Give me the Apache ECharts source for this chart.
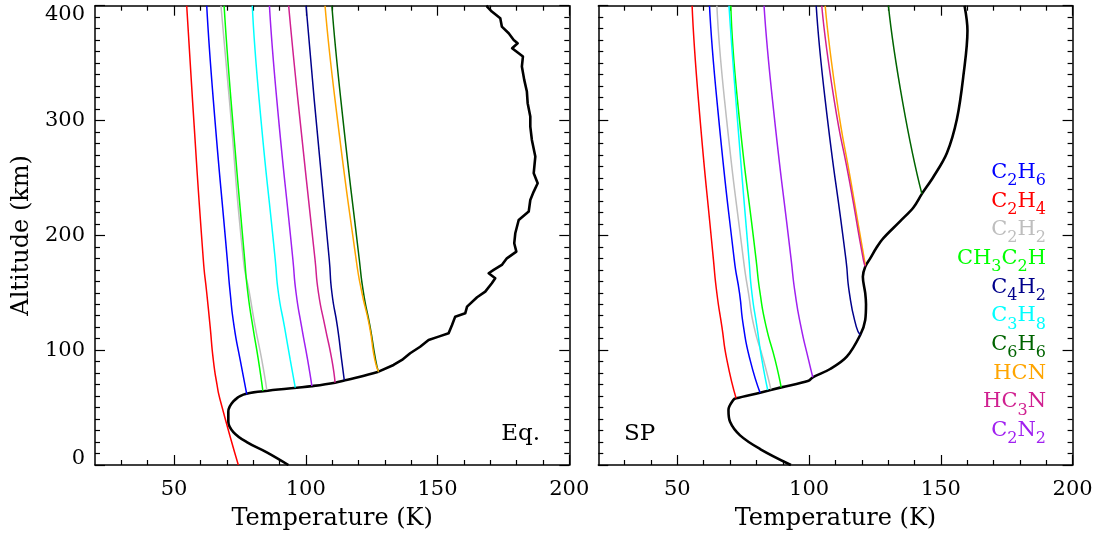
<!DOCTYPE html>
<html>
<head>
<meta charset="utf-8">
<script src="https://cdn.jsdelivr.net/npm/echarts@6/dist/echarts.min.js"></script>
<style>
  html, body { margin: 0; padding: 0; background: #fff; }
  #chart { width: 1098px; height: 533px; }
</style>
</head>
<body>
<div id="chart"></div>
<script>
// points are [temperature (K), altitude (km)]

// --- equator panel (temperature profile split: smooth lower part, noisy upper part)
var eqProfileLow = [[93.4,0],[85.2,11],[77.6,19.9],[72.5,28.7],[70.6,37.6],[70.6,46.5],[72.5,55.4],[76.3,61.3],
  [83.9,64.3],[96.6,67.3],[102.3,68.7],[111.1,71.7],[114.9,73.8],[120.6,76.9],[127.6,81.3]];
var eqProfileHigh = [[127.6,81.3],[133.3,87.1],[136.5,91.5],[139.6,97.3],[143.4,103],[146.6,108.9],[150.4,111.8],
  [154.2,114.7],[155.5,122],[156.7,129.2],[160.5,132.1],[161.2,137.9],[165,146.1],[168.1,151],[170.6,158.3],
  [171.9,162.6],[169.4,167],[171.3,169.9],[174.4,174.2],[176.3,180],[179.9,185.8],[179.1,193.1],[179.5,201.8],
  [180.8,213.4],[184.6,220.7],[185.2,230.8],[186.5,238.1],[188,245.4],[186.5,254.1],[187.1,268.6],[185.8,283.1],
  [185.2,294.7],[185.2,303.4],[184.2,315.1],[183.9,325.2],[182.9,335.4],[182,347],[182.4,355.7],[180.8,358.6],
  [178.3,363],[180.4,367.3],[178.9,370.2],[177,376],[174.4,381.8],[173.8,389.1],[170.6,394.9],[168.8,399.2],[169.2,400]];
var eqC2H6   = [[62.4,400],[64.9,318],[70.2,179],[71.3,150],[72.8,120.5],[75.1,91.5],[77.6,61.6]];
var eqC2H4   = [[54.8,400],[57,318],[61.1,179],[62.4,150],[63.7,120.5],[64.9,91.5],[66.3,70],[67.5,56.6],[74.4,0]];
var eqC2H2   = [[67.8,400],[71,318],[76.3,179],[78.6,150],[80.8,120.5],[83.3,91.5],[85.2,65.3]];
var eqCH3C2H = [[69,400],[71.6,318],[76.8,179],[78,150],[79.9,120.5],[82,91.5],[83.7,64.5]];
var eqC4H2   = [[100.1,400],[103.2,318],[108.9,179],[109.9,150],[112,120.5],[113.6,91.5],[114.6,74]];
var eqC3H8   = [[79.7,400],[82.3,318],[88.4,179],[89.6,150],[91.9,120.5],[94.1,91.5],[96,67.4]];
var eqC6H6   = [[109.9,400],[113.3,318],[120.3,179],[121.9,150],[124.4,120.5],[126.5,91.5],[127.5,81.5]];
var eqHCN    = [[107.3,400],[111.1,318],[119.1,179],[121.3,150],[124.2,120.5],[126.2,91.5],[127.6,81.3]];
var eqHC3N   = [[93.5,400],[97,318],[103.5,179],[104.8,150],[107.3,120.5],[109.9,91.5],[111.1,71.7]];
var eqC2N2   = [[86.2,400],[89,318],[95.1,179],[96.3,150],[98.4,120.5],[100.7,91.5],[102.3,68.8]];

// --- south pole panel
var spProfile = [[93.1,0],[81.4,13.9],[73.8,25.8],[70,37.6],[69.4,48],[71.3,56.9],[72.3,58.1],[81.4,63],
  [89.4,67.6],[99.8,73.4],[101.4,76.4],[108,83.6],[114.3,94.3],[119.4,113.2],[121.3,126.3],[121.6,140],
  [121.3,149.6],[120.4,164],[121.3,172.7],[123.2,180],[125.5,189],[128.2,197.6],[134.6,212.4],[139.6,224.3],
  [142.8,236.1],[147.2,251],[152.3,271.7],[156.1,301.3],[158.6,339.9],[160.1,378.4],[159,400]];
var spC2H6   = [[62.2,400],[65,318],[71.6,178.6],[73.6,149.6],[75.1,120.5],[77.6,91.5],[81.4,63]];
var spC2H4   = [[55.6,400],[58,318],[63.7,178.6],[65,149.6],[66.9,120.5],[68.8,91.5],[72.3,58.1]];
var spC2H2   = [[65,400],[67.9,318],[75.1,178.6],[77,149.6],[79.1,120.5],[82.7,91.5],[85.5,65.9]];
var spCH3C2H = [[70.3,400],[72.8,318],[79.9,178.6],[81.4,149.6],[83.7,120.5],[87.1,91.5],[89.4,67.6]];
var spC4H2   = [[102.7,400],[106.1,318],[114,178.6],[115.3,149.6],[117.9,120.5],[119.4,113.2]];
var spC3H8   = [[69.6,400],[72.2,318],[77.2,178.6],[78.3,149.6],[80.2,120.5],[82.1,91.5],[84.3,65.3]];
var spC6H6   = [[130.1,400],[135.5,316],[142.8,236.1]];
var spHCN    = [[106.1,400],[110.5,318],[116,245],[121,178.6],[121.4,174]];
var spHC3N   = [[104.8,400],[109.5,318],[115.5,245],[120.6,178.6],[121.3,173]];
var spC2N2   = [[82.9,400],[86.1,318],[93.2,178.6],[94.7,149.6],[96.9,120.5],[99.8,91.5],[101.4,76.4]];

var species = ['C2H6', 'C2H4', 'C2H2', 'CH3C2H', 'C4H2', 'C3H8', 'C6H6', 'HCN', 'HC3N', 'C2N2'];
var panelNames = ['Eq.', 'SP'];
var xMajorTicks = [50, 100, 150, 200];
var xMinorTicks = [30, 40, 60, 70, 80, 90, 110, 120, 130, 140, 160, 170, 180, 190];

var eqCurves = { C2H6: eqC2H6, C2H4: eqC2H4, C2H2: eqC2H2, CH3C2H: eqCH3C2H, C4H2: eqC4H2,
  C3H8: eqC3H8, C6H6: eqC6H6, HCN: eqHCN, HC3N: eqHC3N, C2N2: eqC2N2 };
var spCurves = { C2H6: spC2H6, C2H4: spC2H4, C2H2: spC2H2, CH3C2H: spCH3C2H, C4H2: spC4H2,
  C3H8: spC3H8, C6H6: spC6H6, HCN: spHCN, HC3N: spHC3N, C2N2: spC2N2 };

var colors = {
  C2H6: '#0000ff', C2H4: '#ff0000', C2H2: '#bebebe', CH3C2H: '#00ff00', C4H2: '#00008b',
  C3H8: '#00ffff', C6H6: '#006400', HCN: '#ffa500', HC3N: '#d02090', C2N2: '#a020f0'
};

var FONT = 'DejaVu Serif';
var chart = echarts.init(document.getElementById('chart'), null, { renderer: 'canvas' });

var grids = [
  { left: 95, top: 5.7, width: 474.3, height: 459.3, outerBoundsMode: 'none' },
  { left: 598.3, top: 5.7, width: 474.3, height: 459.3, outerBoundsMode: 'none' }
];

var xAxes = [];
var yAxes = [];
grids.forEach(function (g, gi) {
  ['bottom', 'top'].forEach(function (pos) {
    // minor ticks (and, on the bottom, the labels + name)
    xAxes.push({
      gridIndex: gi, type: 'value', min: 20, max: 200, position: pos,
      axisLine: { show: true, onZero: false, lineStyle: { color: '#000', width: 1.5 } },
      axisTick: { show: true, inside: true, length: 5, customValues: xMinorTicks,
        lineStyle: { color: '#000', width: 1.2 } },
      axisLabel: { show: pos === 'bottom', customValues: xMajorTicks, margin: 14,
        color: '#000', fontFamily: FONT, fontSize: 21 },
      splitLine: { show: false },
      name: pos === 'bottom' ? 'Temperature (K)' : '',
      nameLocation: 'middle', nameGap: 42,
      nameTextStyle: { color: '#000', fontFamily: FONT, fontSize: 24 }
    });
    // major ticks
    xAxes.push({
      gridIndex: gi, type: 'value', min: 20, max: 200, position: pos,
      axisLine: { show: false, onZero: false },
      axisTick: { show: true, inside: true, length: 10, customValues: xMajorTicks,
        lineStyle: { color: '#000', width: 1.2 } },
      axisLabel: { show: false },
      splitLine: { show: false }
    });
  });
  ['left', 'right'].forEach(function (pos) {
    var labelled = gi === 0 && pos === 'left';
    var yAxis = {
      gridIndex: gi, type: 'value', min: 0, max: 400, interval: 100, position: pos,
      axisLine: { show: true, onZero: false, lineStyle: { color: '#000', width: 1.5 } },
      axisTick: { show: true, inside: true, length: 10, lineStyle: { color: '#000', width: 1.2 } },
      minorTick: { show: true, splitNumber: 10, length: 5, lineStyle: { color: '#000', width: 1.2 } },
      axisLabel: { show: false },
      splitLine: { show: false }
    };
    if (labelled) {
      yAxis.axisLabel = {
        show: true, margin: 10, color: '#000', fontFamily: FONT, fontSize: 21,
        // end labels sit inside the frame, like the original
        formatter: function (v) {
          if (v === 0) return '{lo|0}';
          if (v === 400) return '{hi|400}';
          return String(v);
        },
        rich: {
          lo: { fontFamily: FONT, fontSize: 21, color: '#000', lineHeight: 15, padding: [0, 0, 12, 0] },
          hi: { fontFamily: FONT, fontSize: 21, color: '#000', lineHeight: 15, padding: [18, 0, 0, 0] }
        }
      };
      yAxis.name = 'Altitude (km)';
      yAxis.nameLocation = 'middle';
      yAxis.nameGap = 61;
      yAxis.nameRotate = 90;
      yAxis.nameTextStyle = { color: '#000', fontFamily: FONT, fontSize: 24 };
    }
    yAxes.push(yAxis);
  });
});

// x axis index of bottom axis in each grid = gi*4, left y axis = gi*2
var series = [];
[[eqProfileLow, 0, 0.4], [eqProfileHigh, 0, false], [spProfile, 1, 0.35]].forEach(function (p) {
  series.push({
    type: 'line', name: 'T profile', data: p[0], xAxisIndex: p[1] * 4, yAxisIndex: p[1] * 2,
    showSymbol: false, smooth: p[2],
    lineStyle: { color: '#000', width: 2.6, join: 'round' }, z: 3
  });
});
[eqCurves, spCurves].forEach(function (curves, gi) {
  species.forEach(function (sp) {
    series.push({
      type: 'line', name: sp, data: curves[sp], xAxisIndex: gi * 4, yAxisIndex: gi * 2,
      showSymbol: false, smooth: 0.6,
      lineStyle: { color: colors[sp], width: 1.5 }, z: 4
    });
  });
});

// chemical formula -> rich text with subscripted digits
function formula(name) {
  return name.replace(/([A-Za-z]+)|(\d+)/g, function (m, letters, digits) {
    return letters ? '{m|' + letters + '}' : '{s|' + digits + '}';
  });
}

var graphics = species.map(function (sp, i) {
  return {
    type: 'text', z: 100,
    style: {
      x: 1046, y: 174 + i * 28.67, align: 'right', verticalAlign: 'middle',
      text: formula(sp),
      rich: {
        m: { fontFamily: FONT, fontSize: 21, lineHeight: 24, verticalAlign: 'top', fill: colors[sp] },
        s: { fontFamily: FONT, fontSize: 16, lineHeight: 16, verticalAlign: 'top',
          padding: [11, 0, 0, 0], fill: colors[sp] }
      }
    }
  };
});
graphics.push({
  type: 'text', z: 100,
  style: { x: 540, y: 434, text: panelNames[0], align: 'right', verticalAlign: 'middle',
    fontFamily: FONT, fontSize: 23, fill: '#000' }
});
graphics.push({
  type: 'text', z: 100,
  style: { x: 624, y: 434, text: panelNames[1], align: 'left', verticalAlign: 'middle',
    fontFamily: FONT, fontSize: 23, fill: '#000' }
});

chart.setOption({
  animation: false,
  backgroundColor: '#fff',
  grid: grids,
  xAxis: xAxes,
  yAxis: yAxes,
  series: series,
  graphic: graphics
});
</script>
</body>
</html>
